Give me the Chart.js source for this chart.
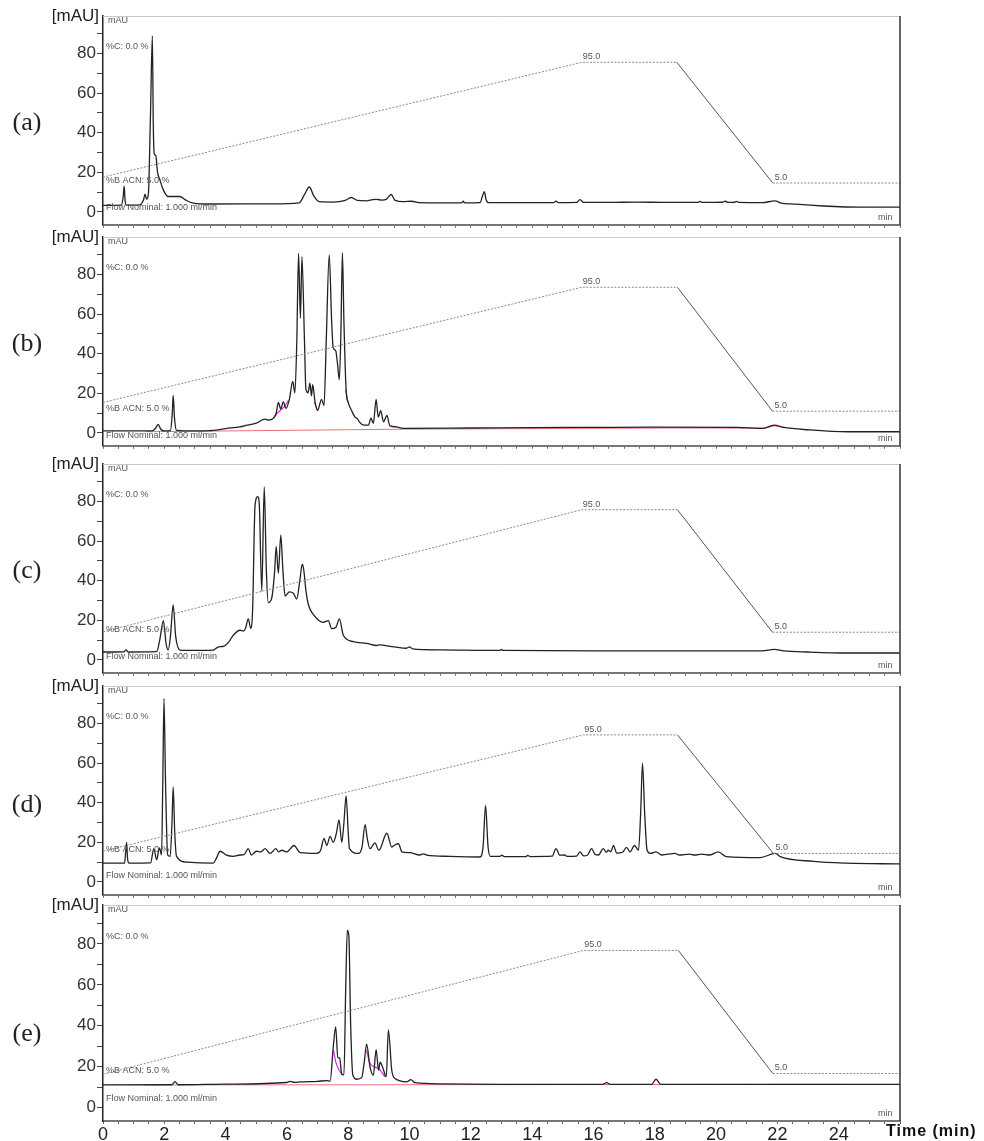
<!DOCTYPE html>
<html>
<head>
<meta charset="utf-8">
<script src="https://cdn.jsdelivr.net/npm/chart.js@4.4.1/dist/chart.umd.min.js"></script>
<style>
    html, body { margin: 0; padding: 0; background: #fff; overflow: hidden; }
    #wrap { position: relative; width: 984px; height: 1141px; }
    canvas { position: absolute; left: 0; }
</style>
</head>
<body>
<div id="wrap"></div>
<script>
// Chromatogram traces, [time (min), signal (mAU)]
const traceA = [[0,3.3],[0.6,3.4],[0.66,8],[0.69,13],[0.72,6],[0.76,3.4],[1.2,3.6],[1.32,6],[1.37,9],[1.42,6.5],[1.48,9],[1.55,50],[1.61,89],[1.64,45],[1.67,29.5],[1.72,28.5],[1.78,20],[1.86,16],[1.96,11.4],[2.12,7.8],[2.5,7.8],[2.72,5.8],[2.94,4.5],[3.5,4],[5.5,4.1],[6.4,4.6],[6.58,9],[6.73,12.6],[6.88,8],[7.05,5.2],[7.5,5.0],[7.9,5.8],[8.1,7.3],[8.3,5.8],[8.6,5.6],[8.8,6.2],[8.93,6.3],[9.1,6],[9.25,6.5],[9.4,8.8],[9.52,6],[9.8,5.2],[10.07,5.4],[10.3,4.7],[11.0,4.6],[11.7,4.6],[11.75,5.4],[11.8,4.6],[12.3,4.7],[12.38,8],[12.44,10.2],[12.5,6],[12.58,4.7],[13.5,4.7],[14.7,4.7],[14.77,5.5],[14.85,4.7],[15.45,4.8],[15.56,6.2],[15.68,4.8],[16.5,4.8],[17.4,5.0],[18.4,4.8],[19.4,4.8],[19.48,5.3],[19.56,4.8],[20.2,4.9],[20.3,5.4],[20.4,4.8],[20.6,4.9],[20.67,5.3],[20.75,4.8],[21.5,4.7],[21.93,5.6],[22.1,4.6],[22.6,3.9],[23.5,3.0],[24.7,2.4],[26,2.4]];
const traceB = [[0,1.0],[1.6,1.0],[1.72,2.5],[1.8,4.3],[1.88,2.0],[2.0,1.0],[2.2,1.2],[2.26,10],[2.29,19],[2.33,8],[2.4,1.3],[3.0,1.0],[3.6,1.3],[4.0,2.2],[4.47,3.1],[4.69,3.9],[5.0,5.0],[5.29,7.0],[5.4,6.5],[5.56,7.5],[5.65,10],[5.72,15.4],[5.8,12.1],[5.88,15.7],[5.97,12.4],[6.08,17],[6.19,26],[6.26,20.3],[6.32,45],[6.38,90.7],[6.44,58],[6.49,89],[6.57,48],[6.62,22],[6.69,20.3],[6.75,25.2],[6.8,18.7],[6.84,24.4],[6.92,15.4],[7.0,11.3],[7.13,17],[7.21,13.8],[7.28,45],[7.38,90],[7.46,56],[7.51,43],[7.59,41.6],[7.65,35],[7.71,26.9],[7.76,50],[7.81,91],[7.86,56],[7.93,22],[8.0,15.4],[8.11,11.3],[8.22,8],[8.3,7.2],[8.36,5.6],[8.52,3.9],[8.66,4.0],[8.74,7.5],[8.82,4.8],[8.91,17],[8.98,8],[9.06,11.3],[9.15,5.6],[9.26,8.8],[9.36,3.6],[9.58,3.1],[9.69,2.6],[9.9,2.3],[12,2.5],[14,2.7],[16,2.8],[18,2.9],[20.7,2.8],[21.5,2.3],[21.9,3.9],[22.2,2.8],[23,1.6],[24.3,0.6],[26,0.6]];
const traceC = [[0,4.0],[0.68,4.1],[0.75,5.1],[0.82,4.0],[1.75,4.2],[1.85,10],[1.97,19.9],[2.06,8],[2.13,5.1],[2.2,12],[2.29,27.8],[2.37,12],[2.51,5.0],[3.0,4.8],[3.6,5.0],[3.75,6.5],[3.95,7.0],[4.1,9],[4.25,12.5],[4.47,15],[4.58,14.6],[4.65,16],[4.74,20.7],[4.82,16],[4.88,25],[4.96,78],[5.05,82.5],[5.1,78],[5.18,34.7],[5.26,87.4],[5.33,45],[5.39,29],[5.5,31],[5.6,45],[5.65,57.4],[5.72,43.8],[5.8,63],[5.87,45],[5.94,32.3],[6.08,34.4],[6.21,33.7],[6.32,30.8],[6.42,40],[6.5,48.4],[6.55,45.4],[6.62,35],[6.7,28],[6.86,23],[7.19,19],[7.35,19.9],[7.46,15.8],[7.6,16.5],[7.71,20.7],[7.84,12.5],[8.17,9.2],[8.6,8.4],[8.93,7.3],[9.0,7.6],[9.5,6.6],[9.9,5.9],[10.0,6.6],[10.1,5.6],[11.0,5.1],[12.95,4.8],[13.0,5.3],[13.05,4.8],[16,4.6],[21.5,4.6],[21.9,5.3],[22.2,4.6],[23,4.0],[24.3,3.5],[26,3.5]];
const traceD = [[0,9.5],[0.7,9.5],[0.74,15],[0.77,20],[0.8,12],[0.85,9.5],[1.55,9.6],[1.66,16.8],[1.75,11.2],[1.84,17.2],[1.91,13.6],[1.95,50],[1.99,92.6],[2.04,50],[2.11,13.6],[2.19,12.9],[2.25,30],[2.29,47.9],[2.34,25],[2.4,12.9],[2.73,10],[3.6,9.5],[3.7,12],[3.82,15.5],[4.03,13.5],[4.25,12.9],[4.47,13.6],[4.6,13.8],[4.74,16.8],[4.84,13.6],[5.0,15.5],[5.15,15.2],[5.29,16.8],[5.45,14.4],[5.64,16.8],[5.73,15.2],[5.83,16],[6.0,15.2],[6.23,18.4],[6.43,14.8],[6.97,14.4],[7.1,16],[7.21,22],[7.3,18.4],[7.41,23],[7.51,20],[7.62,25],[7.7,31.4],[7.79,20],[7.86,30],[7.93,43.5],[8.0,25],[8.04,16.8],[8.34,14.4],[8.45,17.6],[8.55,29],[8.62,22],[8.71,16.8],[8.87,19.7],[9.0,16],[9.26,24.6],[9.42,17.6],[9.53,18.8],[9.64,19.3],[9.75,15.2],[10.0,14.8],[10.34,13.6],[10.45,14.2],[10.56,13.6],[11.32,12.9],[12.3,12.6],[12.4,18],[12.48,38.7],[12.56,18],[12.63,12.9],[12.95,12.9],[13.0,13.5],[13.1,12.8],[13.8,12.8],[13.85,13.4],[13.95,12.8],[14.65,13],[14.78,16.8],[14.9,13.5],[15.05,13.6],[15.15,12.9],[15.45,13],[15.56,15.2],[15.68,13.2],[15.8,13.5],[15.94,16.8],[16.05,14],[16.16,13.6],[16.32,16.8],[16.42,15],[16.48,16],[16.57,15.2],[16.65,18.4],[16.76,14.6],[16.95,15],[17.08,17.5],[17.19,15.2],[17.34,18.4],[17.47,16],[17.54,35],[17.6,60],[17.67,35],[17.75,16],[17.86,14.4],[18.04,15.2],[18.23,13.6],[18.66,14.4],[18.8,13.6],[19.13,14.1],[19.3,13.6],[19.53,14.1],[19.8,13.6],[20.07,15.2],[20.33,12.8],[21.44,12.3],[21.93,14.4],[22.09,12.8],[23.18,10.4],[24.26,9.5],[26,9.1]];
const traceE = [[0,11.1],[2.25,11.2],[2.35,12.7],[2.45,11.2],[4,11.5],[5.99,12.3],[6.1,12.9],[6.25,12.4],[6.43,12.6],[7.0,12.9],[7.3,13.2],[7.41,13.0],[7.51,29.4],[7.59,39.5],[7.66,24.5],[7.72,24.3],[7.79,16.3],[7.86,16],[7.92,60],[7.97,86.6],[8.02,84],[8.08,40],[8.15,16],[8.28,13.9],[8.44,14.7],[8.52,22],[8.6,31],[8.71,19.9],[8.82,15.8],[8.91,28.3],[8.99,18.3],[9.04,22.2],[9.12,19.9],[9.24,15.1],[9.31,37.9],[9.42,18.3],[9.53,14.2],[9.91,12.6],[10.04,13.7],[10.18,12.2],[11,11.6],[13,11.4],[16.3,11.4],[16.43,12.2],[16.55,11.4],[17.9,11.4],[18.04,13.9],[18.2,11.4],[26,11.4]];

// Integration baselines (red) and peak marks (magenta)
const baseB = [[1.4,0.6],[9.8,1.9],[12.9,2.1],[18.8,2.5],[21.6,2.4],[21.9,3.6],[22.3,2.7]];
const baseE = [[1.35,11.1],[24.1,11.4]];
const markB = [[5.56,7.5],[5.72,10.5],[5.9,13],[6.05,16.5],[6.06,null],[6.9,15.5],[7.0,11.3],[7.01,null],[7.92,22],[7.97,17],[8.0,15.4]];
const markE = [[7.52,28],[7.6,22],[7.72,18],[7.8,16],[7.81,null],[8.6,28],[8.7,22],[8.85,20],[9.0,19],[9.2,15]];

// Solvent gradient profile (drawn in mAU units of each panel)
const gradA = [[0,17.6],[15.62,75.6],[18.72,75.6],[21.85,14.6],[26,14.6]];
const gradB = [[0,15.4],[15.62,73.6],[18.74,73.6],[21.84,11],[26,11]];
const gradC = [[0,14.2],[15.62,75.9],[18.74,75.9],[21.84,14],[26,14]];
const gradD = [[0,15.6],[15.67,74.3],[18.74,74.3],[21.87,14.4],[26,14.4]];
const gradE = [[0,16.3],[15.67,76.8],[18.77,76.8],[21.85,16.7],[26,16.7]];

const yTickLabels = [0, 20, 40, 60, 80];
const xTickLabels = [0, 2, 4, 6, 8, 10, 12, 14, 16, 18, 20, 22, 24];

// Layout
const PAD_TOP = 16;
const BOX_H = 216;
const panels = [
    { tag: '(a)', boxTop: 16,  trace: traceA, grad: gradA, tagY: 45, flowY: 2.4, acnY: 16 },
    { tag: '(b)', boxTop: 237, trace: traceB, grad: gradB, base: baseB, mark: markB, tagY: 45, flowY: -1.3, acnY: 12.4 },
    { tag: '(c)', boxTop: 464, trace: traceC, grad: gradC, tagY: 45, flowY: 1.5, acnY: 15.3 },
    { tag: '(d)', boxTop: 686, trace: traceD, grad: gradD, tagY: 39, flowY: 3, acnY: 16.5 },
    { tag: '(e)', boxTop: 905, trace: traceE, grad: gradE, base: baseE, mark: markE, tagY: 36, flowY: 4.5, acnY: 18 }
];

const toXY = pts => pts.map(p => ({ x: p[0], y: p[1] }));

const deco = {
    id: 'deco',
    afterDraw(chart, args, o) {
        const { ctx, chartArea: a, scales } = chart;
        const X = scales.x, Y = scales.y;
        ctx.save();
        // frame: top and right edges
        ctx.strokeStyle = '#c8c8c8'; ctx.lineWidth = 1;
        ctx.beginPath(); ctx.moveTo(a.left, a.top + 0.5); ctx.lineTo(a.right, a.top + 0.5); ctx.stroke();
        ctx.strokeStyle = '#333'; ctx.lineWidth = 1.5;
        ctx.beginPath(); ctx.moveTo(a.right, a.top); ctx.lineTo(a.right, a.bottom); ctx.stroke();

        // outside labels
        ctx.fillStyle = '#222';
        ctx.font = '17px "Liberation Sans", Arial, sans-serif';
        ctx.textAlign = 'right'; ctx.textBaseline = 'middle';
        ctx.fillText('[mAU]', a.left - 4, a.top);
        ctx.font = '26px "Liberation Serif", "Times New Roman", serif';
        ctx.textAlign = 'center';
        ctx.fillText(o.tag, 27, Y.getPixelForValue(o.tagY));

        // instrument annotations
        const g = o.grad;
        ctx.fillStyle = '#555';
        ctx.font = '9px "Liberation Sans", Arial, sans-serif';
        ctx.textAlign = 'left';
        ctx.fillText('mAU', a.left + 5, a.top + 5);
        ctx.fillText('%C: 0.0 %', a.left + 3, Y.getPixelForValue(83.5));
        ctx.fillText('%B ACN: 5.0 %', a.left + 3, Y.getPixelForValue(o.acnY));
        ctx.fillText('Flow Nominal: 1.000 ml/min', a.left + 3, Y.getPixelForValue(o.flowY));
        ctx.textBaseline = 'bottom';
        ctx.fillText('95.0', X.getPixelForValue(g[1][0]) + 1, Y.getPixelForValue(g[1][1]) - 1);
        ctx.fillText('5.0', X.getPixelForValue(g[3][0]) + 2, Y.getPixelForValue(g[3][1]) - 1);
        ctx.fillText('min', a.right - 22, a.bottom - 3);

        if (o.last) {
            ctx.fillStyle = '#111';
            ctx.font = 'bold 16px "Liberation Sans", Arial, sans-serif';
            ctx.letterSpacing = '1px';
            ctx.textBaseline = 'middle';
            ctx.fillText('Time (min)', 886, a.bottom + 11);
        }
        ctx.restore();
    }
};

function makePanel(p, i) {
    const last = i === panels.length - 1;
    const h = PAD_TOP + BOX_H + (last ? 26 : 4);
    const canvas = document.createElement('canvas');
    canvas.width = 984; canvas.height = h;
    canvas.style.width = '984px'; canvas.style.height = h + 'px';
    canvas.style.top = (p.boxTop - PAD_TOP) + 'px';
    document.getElementById('wrap').appendChild(canvas);

    const datasets = [
        {
            data: toXY(p.grad), borderWidth: 1, borderColor: '#8a8a8a',
            segment: {
                borderDash: c => c.p1.parsed.y < c.p0.parsed.y - 1 ? [] : [2, 1.5],
                borderColor: c => c.p1.parsed.y < c.p0.parsed.y - 1 ? '#555' : '#8a8a8a'
            }
        },
        { data: toXY(p.trace), borderWidth: 1.3, borderColor: '#222', cubicInterpolationMode: 'monotone' }
    ];
    if (p.base) datasets.push({ data: toXY(p.base), borderWidth: 1, borderColor: '#f0707a' });
    if (p.mark) datasets.push({ data: toXY(p.mark), borderWidth: 1.2, borderColor: '#e020e0', spanGaps: false, cubicInterpolationMode: 'monotone' });

    new Chart(canvas, {
        type: 'line',
        data: { datasets },
        options: {
            responsive: false,
            animation: false,
            layout: { padding: { top: PAD_TOP, right: 84, left: 0, bottom: 0 } },
            elements: { point: { radius: 0 }, line: { tension: 0 } },
            plugins: {
                legend: { display: false },
                tooltip: { enabled: false },
                deco: { tag: p.tag, grad: p.grad, tagY: p.tagY, flowY: p.flowY, acnY: p.acnY, last }
            },
            scales: {
                x: {
                    type: 'linear', min: 0, max: 26,
                    afterFit: s => { s.height = last ? 26 : 4; },
                    ticks: {
                        display: last, stepSize: 0.5, autoSkip: false, maxRotation: 0, padding: 0,
                        callback: v => xTickLabels.includes(v) ? String(v) : '',
                        font: { size: 18, family: '"Liberation Sans", Arial, sans-serif' }, color: '#222'
                    },
                    grid: { drawOnChartArea: false, tickLength: 3, color: '#666' },
                    border: { color: '#777', width: 2 }
                },
                y: {
                    min: -6.5, max: 99,
                    afterFit: s => { s.width = 103; },
                    ticks: {
                        stepSize: 10, includeBounds: false, autoSkip: false, padding: 1,
                        callback: v => yTickLabels.includes(v) ? String(v) : '',
                        font: { size: 17, family: '"Liberation Sans", Arial, sans-serif' }, color: '#333'
                    },
                    grid: { drawOnChartArea: false, tickLength: 6, color: '#444' },
                    border: { color: '#222', width: 1.5 }
                }
            }
        },
        plugins: [deco]
    });
}

panels.forEach(makePanel);
</script>
</body>
</html>
